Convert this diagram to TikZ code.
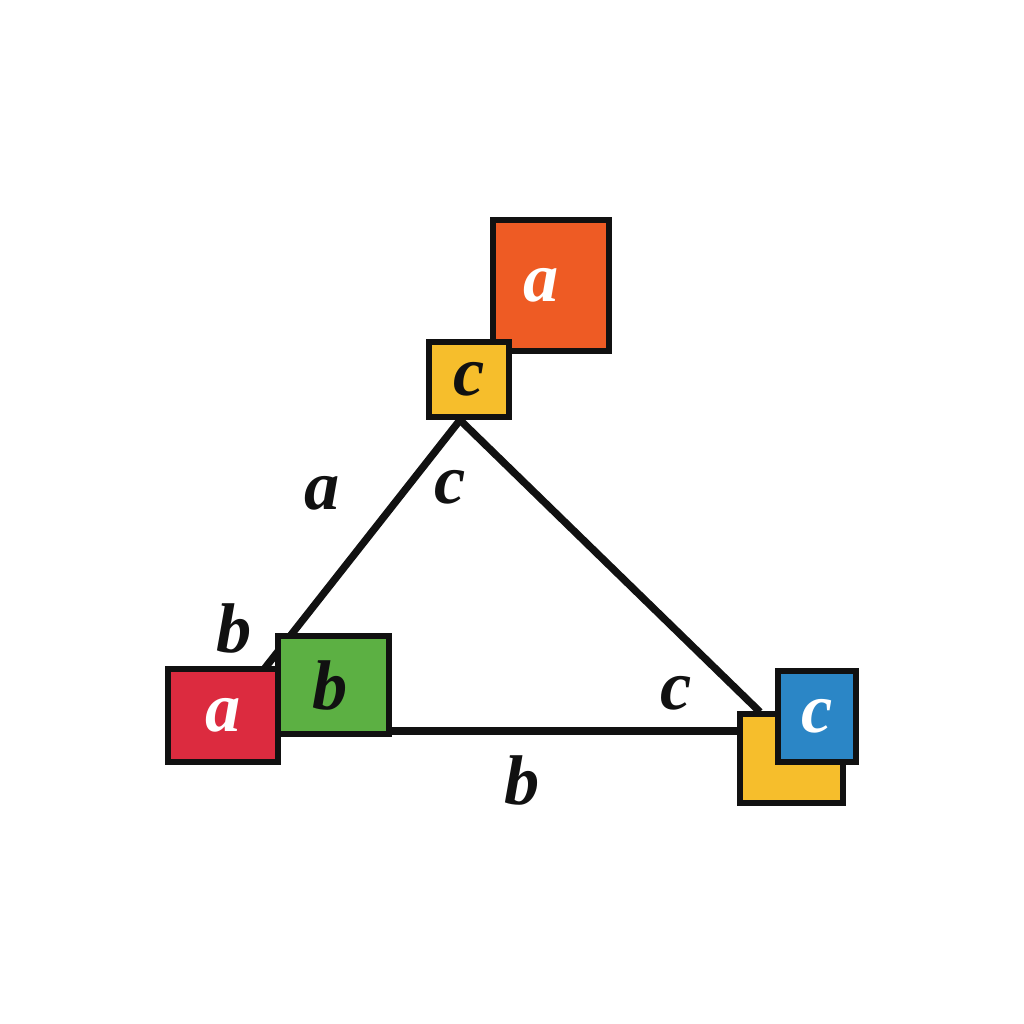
\documentclass[tikz,border=0pt]{standalone}
\usepackage{fontspec}
\setmainfont{Liberation Serif}
\definecolor{cOrange}{HTML}{EE5B24}
\definecolor{cYellow}{HTML}{F6BE2C}
\definecolor{cRed}{HTML}{DC2B3F}
\definecolor{cGreen}{HTML}{5CB043}
\definecolor{cBlue}{HTML}{2B86C6}
\definecolor{cInk}{HTML}{111111}
\begin{document}
\begin{tikzpicture}[x=0.01cm,y=-0.01cm,
  sq/.style={draw=cInk,line width=1.7pt,inner sep=0pt,font=\fontsize{20}{22}\selectfont\bfseries\itshape},
  lbl/.style={inner sep=0pt,text=cInk,font=\fontsize{20}{22}\selectfont\bfseries\itshape},
  edge/.style={draw=cInk,line width=2.1pt}]
\useasboundingbox (0,0) rectangle (1024,1024);
\fill[white] (0,0) rectangle (1024,1024);
% triangle vertices
\coordinate (A) at (460,420);
\coordinate (L) at (265,668);
\coordinate (B1) at (281,731);
\coordinate (B2) at (740,731);
\coordinate (R) at (760,712);
\draw[edge] (A) -- (L);
\draw[edge] (B1) -- (B2);
\draw[edge] (A) -- (R);
% squares
\node[sq,fill=cOrange,minimum width=1.16cm,minimum height=1.31cm] (oa) at (551,285.5) {};
\node[text=white,inner sep=0pt,font=\fontsize{20}{22}\selectfont\bfseries\itshape] at (oa.center) [xshift=-0.1cm] {a};
\node[sq,fill=cYellow,text=cInk,minimum width=0.80cm,minimum height=0.75cm] (yc) at (469,379.5) {c};
\node[sq,fill=cRed,text=white,minimum width=1.10cm,minimum height=0.93cm] (ra) at (223,715.5) {a};
\node[sq,fill=cGreen,text=cInk,minimum width=1.11cm,minimum height=0.98cm,text width=1.11cm,align=left] (gb) at (333.5,685) {\hspace*{0.35cm}b};
\node[sq,fill=cYellow,minimum width=1.03cm,minimum height=0.89cm] (ry) at (791.5,758.5) {};
\node[sq,fill=cBlue,text=white,minimum width=0.78cm,minimum height=0.91cm] (bc) at (817,716.5) {c};
% labels
\node[lbl] (la) at (322,493) {a};
\node[lbl] (lc1) at (450,487) {c};
\node[lbl] (lb1) at (234,628) {b};
\node[lbl] (lc2) at (676,693) {c};
\node[lbl] (lb2) at (522,780) {b};
\end{tikzpicture}
\end{document}
